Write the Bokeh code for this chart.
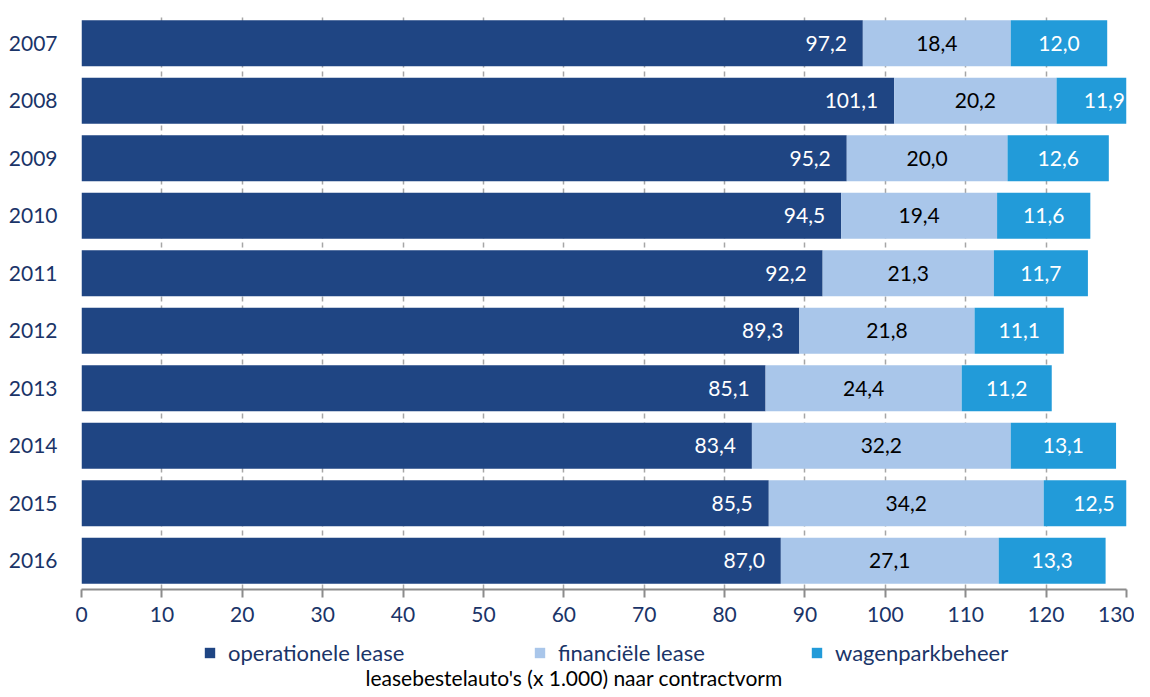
from bokeh.plotting import figure
from bokeh.layouts import column
from bokeh.models import (ColumnDataSource, FactorRange, Range1d, LabelSet, Legend, LegendItem,
                          Label, SingleIntervalTicker)
from bokeh.embed import file_html
from bokeh.resources import INLINE
from bokeh.core.properties import value

years = ["2007", "2008", "2009", "2010", "2011", "2012", "2013", "2014", "2015", "2016"]
operationele = [97.2, 101.1, 95.2, 94.5, 92.2, 89.3, 85.1, 83.4, 85.5, 87.0]
financiele = [18.4, 20.2, 20.0, 19.4, 21.3, 21.8, 24.4, 32.2, 34.2, 27.1]
wagenpark = [12.0, 11.9, 12.6, 11.6, 11.7, 11.1, 11.2, 13.1, 12.5, 13.3]
series_names = ["operationele lease", "financiële lease", "wagenparkbeheer"]
x_title = "leasebestelauto's (x 1.000) naar contractvorm"

C_DARK = "#1F4583"
C_LIGHT = "#A9C6EA"
C_MID = "#229BD9"
NAVY = "#1A3468"
FONT = "Lato"
colors = [C_DARK, C_LIGHT, C_MID]

def fmt(v):
    return f"{v:.1f}".replace(".", ",")

end1 = operationele
end2 = [a + b for a, b in zip(operationele, financiele)]
end3 = [a + b + c for a, b, c in zip(operationele, financiele, wagenpark)]

src = ColumnDataSource(dict(
    year=years,
    s1=[0] * len(years), e1=end1,
    s2=end1, e2=end2,
    s3=end2, e3=end3,
    c2=[(a + b) / 2 for a, b in zip(end1, end2)],
    c3=[(a + b) / 2 for a, b in zip(end2, end3)],
    t1=[fmt(v) for v in operationele],
    t2=[fmt(v) for v in financiele],
    t3=[fmt(v) for v in wagenpark],
))

p = figure(width=1134, height=631, output_backend="svg", toolbar_location=None,
           y_range=FactorRange(*reversed(years)), x_range=Range1d(0, 130),
           min_border_left=81, min_border_right=8, min_border_top=14, min_border_bottom=42)
p.outline_line_color = None
p.background_fill_color = "white"

for s, e, col in zip(["s1", "s2", "s3"], ["e1", "e2", "e3"], colors):
    p.hbar(y="year", left=s, right=e, height=0.8, source=src, fill_color=col, line_color=None)

lab_kw = dict(text_font=value(FONT), text_font_size="21px", text_baseline="middle", source=src)
p.add_layout(LabelSet(x="e1", y="year", text="t1", text_align="right", x_offset=-16,
                      text_color="white", **lab_kw))
p.add_layout(LabelSet(x="c2", y="year", text="t2", text_align="center",
                      text_color="black", **lab_kw))
p.add_layout(LabelSet(x="c3", y="year", text="t3", text_align="center",
                      text_color="white", **lab_kw))

# axes
p.xaxis.ticker = SingleIntervalTicker(interval=10)
p.xaxis.axis_line_color = "#8C8C8C"
p.xaxis.axis_line_width = 2
p.xaxis.major_tick_line_color = "#8C8C8C"
p.xaxis.major_tick_line_width = 2
p.xaxis.major_tick_out = 8
p.xaxis.major_tick_in = 0
p.xaxis.minor_tick_line_color = None
p.xaxis.major_label_text_font = FONT
p.xaxis.major_label_text_font_size = "21px"
p.xaxis.major_label_text_color = NAVY
p.xaxis.major_label_standoff = 9

p.yaxis.axis_line_color = None
p.yaxis.major_tick_line_color = None
p.yaxis.minor_tick_line_color = None
p.yaxis.major_label_text_font = FONT
p.yaxis.major_label_text_font_size = "21px"
p.yaxis.major_label_text_color = NAVY
p.yaxis.major_label_standoff = 18

p.ygrid.grid_line_color = None
p.xgrid.grid_line_color = "#A6A6A6"
p.xgrid.grid_line_dash = "5 4"
p.xgrid.grid_line_width = 1.5

# legend + caption strip (its zero-height bars draw nothing; only legend swatches show)
q = figure(width=1134, height=62, output_backend="svg", toolbar_location=None,
           x_range=Range1d(1000, 1001), y_range=FactorRange(*years),
           min_border=0, min_border_left=0, min_border_right=0, min_border_top=0, min_border_bottom=0)
q.xaxis.visible = False
q.yaxis.visible = False
q.xgrid.grid_line_color = None
q.ygrid.grid_line_color = None
q.grid.visible = False
q.outline_line_color = None

leg_x = [122, 452, 729]
for s, e, name, col, lx in zip(["s1", "s2", "s3"], ["e1", "e2", "e3"], series_names, colors, leg_x):
    r = q.hbar(y="year", left=s, right=e, height=0, source=src, fill_color=col, line_color=None)
    lg = Legend(items=[LegendItem(label=name, renderers=[r])], location=(lx, 27),
                glyph_width=13, glyph_height=13, label_standoff=12,
                label_text_font=FONT, label_text_font_size="22px", label_text_color=NAVY,
                label_height=20, padding=0, margin=0, border_line_color=None,
                background_fill_alpha=0, spacing=0)
    q.add_layout(lg, "center")

q.add_layout(Label(x=284, y=16, x_units="screen", y_units="screen", text=x_title,
                   text_align="left", text_baseline="middle", text_font=FONT,
                   text_font_size="21px", text_color="black"))

layout = column(p, q, spacing=0)
open("out.html", "w").write(file_html(layout, INLINE))
